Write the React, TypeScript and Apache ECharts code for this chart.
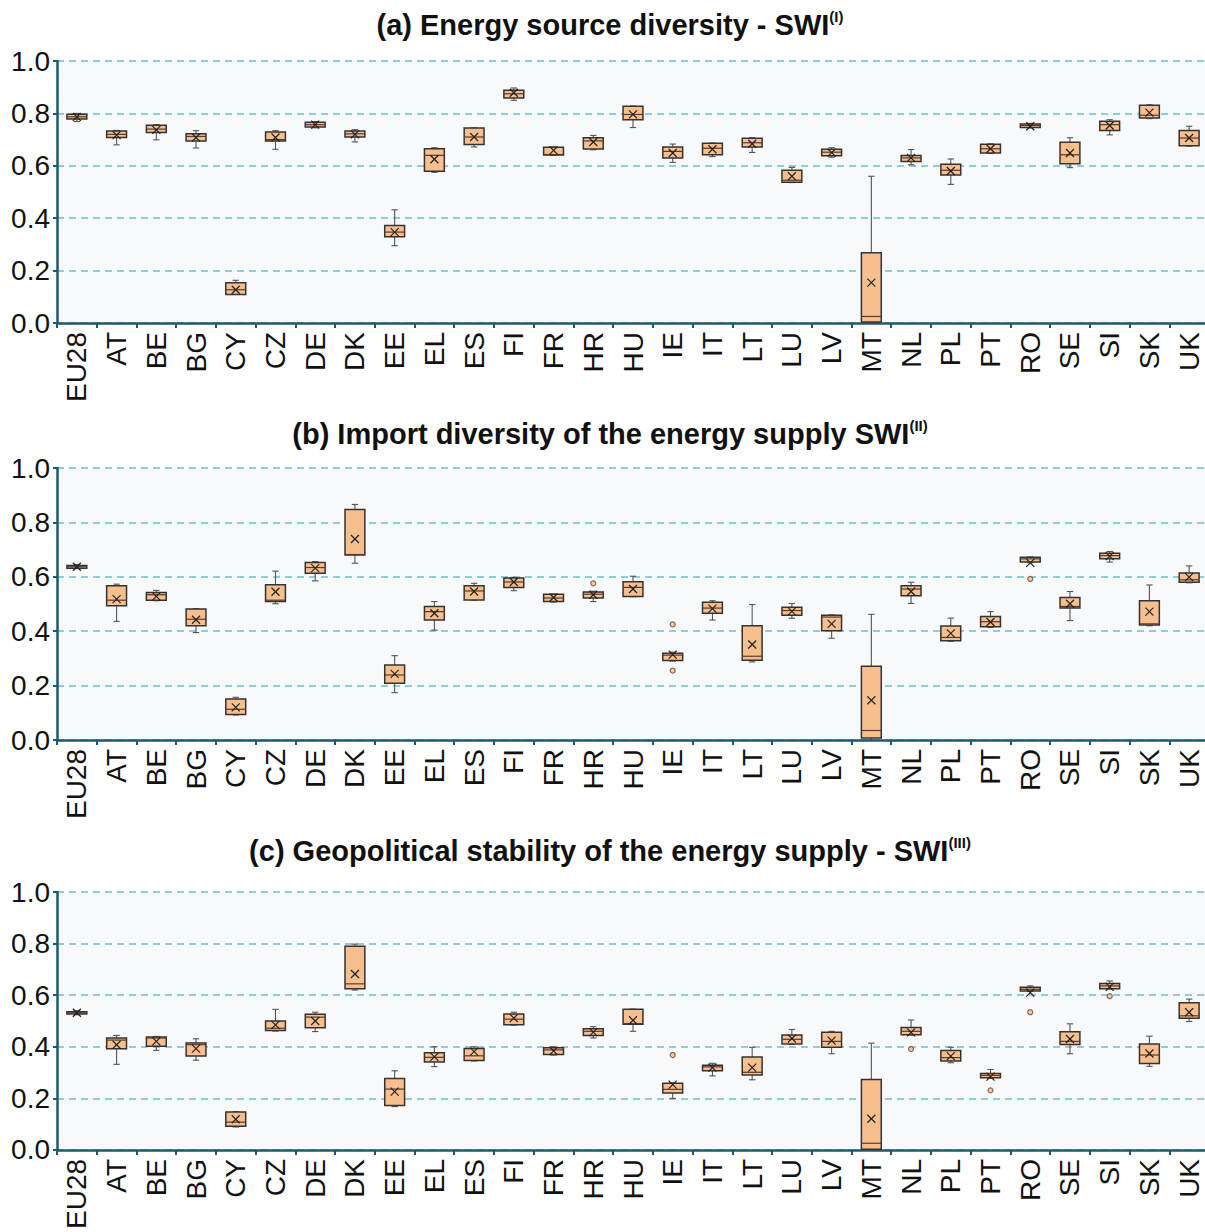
import React, { useEffect, useRef } from "react";
import * as echarts from "echarts";

const categories = ["EU28","AT","BE","BG","CY","CZ","DE","DK","EE","EL","ES","FI","FR","HR","HU","IE","IT","LT","LU","LV","MT","NL","PL","PT","RO","SE","SI","SK","UK"];
const yTicks = [0, 0.2, 0.4, 0.6, 0.8, 1.0];

// [min, Q1, median, Q3, max]
const swi1Box = [
  [0.769,0.779,0.787,0.797,0.800],[0.680,0.708,0.720,0.733,0.735],[0.699,0.727,0.740,0.755,0.757],
  [0.668,0.695,0.712,0.722,0.734],[0.109,0.109,0.127,0.154,0.163],[0.663,0.695,0.700,0.729,0.734],
  [0.745,0.748,0.757,0.766,0.769],[0.691,0.710,0.722,0.733,0.738],[0.295,0.329,0.347,0.372,0.432],
  [0.575,0.579,0.640,0.665,0.669],[0.672,0.681,0.710,0.744,0.745],[0.850,0.859,0.875,0.888,0.897],
  [0.640,0.641,0.643,0.671,0.672],[0.661,0.664,0.695,0.707,0.716],[0.746,0.776,0.796,0.827,0.828],
  [0.613,0.630,0.655,0.672,0.683],[0.635,0.642,0.667,0.686,0.687],[0.651,0.672,0.688,0.705,0.707],
  [0.536,0.537,0.545,0.583,0.594],[0.633,0.638,0.652,0.663,0.669],[0.000,0.004,0.025,0.268,0.560],
  [0.604,0.616,0.630,0.639,0.662],[0.529,0.565,0.583,0.606,0.626],[0.647,0.649,0.665,0.682,0.684],
  [0.745,0.746,0.754,0.760,0.762],[0.593,0.608,0.642,0.690,0.707],[0.718,0.735,0.757,0.770,0.776],
  [0.780,0.782,0.793,0.831,0.833],[0.675,0.677,0.706,0.735,0.751],
];
const swi1Mean = [0.787,0.717,0.737,0.708,0.127,0.708,0.757,0.720,0.347,0.625,0.710,0.879,0.659,0.691,0.796,0.649,0.663,0.684,0.560,0.650,0.154,0.630,0.580,0.665,0.751,0.649,0.754,0.803,0.706];
const swi1Outliers: number[][] = [];

const swi2Box = [
  [0.630,0.631,0.637,0.642,0.645],[0.436,0.494,0.514,0.567,0.573],[0.512,0.514,0.534,0.542,0.550],
  [0.395,0.420,0.444,0.482,0.483],[0.092,0.094,0.113,0.151,0.157],[0.501,0.509,0.514,0.571,0.621],
  [0.585,0.613,0.634,0.653,0.656],[0.650,0.680,0.682,0.847,0.866],[0.174,0.209,0.239,0.276,0.310],
  [0.404,0.441,0.472,0.491,0.509],[0.514,0.515,0.548,0.567,0.576],[0.549,0.561,0.581,0.596,0.598],
  [0.507,0.509,0.522,0.536,0.537],[0.509,0.522,0.536,0.544,0.547],[0.527,0.528,0.561,0.582,0.602],
  [0.290,0.292,0.312,0.319,0.323],[0.441,0.466,0.485,0.506,0.512],[0.287,0.293,0.308,0.420,0.498],
  [0.448,0.459,0.476,0.488,0.502],[0.374,0.402,0.452,0.459,0.460],[0.000,0.007,0.035,0.271,0.462],
  [0.502,0.530,0.555,0.567,0.580],[0.363,0.365,0.377,0.419,0.448],[0.414,0.416,0.435,0.454,0.472],
  [0.652,0.654,0.666,0.672,0.673],[0.439,0.485,0.491,0.524,0.546],[0.654,0.666,0.678,0.687,0.693],
  [0.420,0.423,0.427,0.512,0.570],[0.578,0.580,0.589,0.614,0.640],
];
const swi2Mean = [0.637,0.518,0.528,0.442,0.120,0.545,0.632,0.739,0.243,0.466,0.546,0.581,0.524,0.534,0.555,0.314,0.483,0.351,0.473,0.427,0.146,0.546,0.392,0.434,0.651,0.501,0.676,0.472,0.599];
const swi2Outliers = [[13,0.576],[15,0.425],[15,0.255],[24,0.592]];

const swi3Box = [
  [0.524,0.527,0.532,0.536,0.540],[0.332,0.392,0.426,0.434,0.444],[0.386,0.402,0.434,0.438,0.440],
  [0.348,0.364,0.408,0.415,0.431],[0.089,0.092,0.108,0.147,0.149],[0.461,0.463,0.472,0.500,0.545],
  [0.459,0.474,0.515,0.526,0.534],[0.620,0.625,0.644,0.790,0.798],[0.168,0.172,0.236,0.277,0.307],
  [0.323,0.341,0.359,0.377,0.400],[0.345,0.347,0.365,0.393,0.400],[0.484,0.485,0.507,0.527,0.534],
  [0.368,0.370,0.388,0.396,0.400],[0.434,0.444,0.460,0.470,0.478],[0.460,0.487,0.490,0.545,0.546],
  [0.200,0.221,0.235,0.259,0.260],[0.287,0.307,0.322,0.328,0.336],[0.272,0.291,0.301,0.360,0.398],
  [0.410,0.411,0.429,0.446,0.467],[0.373,0.398,0.421,0.456,0.460],[0.000,0.003,0.026,0.273,0.414],
  [0.446,0.447,0.460,0.475,0.504],[0.338,0.345,0.358,0.386,0.398],[0.278,0.280,0.289,0.296,0.312],
  [0.615,0.616,0.623,0.631,0.636],[0.373,0.409,0.421,0.458,0.489],[0.624,0.625,0.636,0.645,0.655],
  [0.324,0.335,0.368,0.411,0.441],[0.498,0.511,0.520,0.571,0.585],
];
const swi3Mean = [0.532,0.408,0.421,0.393,0.119,0.485,0.500,0.682,0.226,0.361,0.381,0.511,0.384,0.457,0.503,0.253,0.319,0.319,0.432,0.424,0.121,0.456,0.364,0.284,0.610,0.430,0.632,0.374,0.534];
const swi3Outliers = [[15,0.368],[21,0.391],[23,0.231],[24,0.534],[26,0.596]];

const titles = [
  { main: "(a) Energy source diversity - SWI", sup: "(I)" },
  { main: "(b) Import diversity of the energy supply SWI", sup: "(II)" },
  { main: "(c) Geopolitical stability of the energy supply - SWI", sup: "(III)" },
];

const FONT = "'Liberation Sans', Arial, Helvetica, sans-serif";
const AXIS = "#1e5a6b";
const BOX_FILL = "#f8bf8e";
const BOX_STROKE = "#333333";

function renderBox(params: any, api: any) {
  const idx = api.value(0);
  const lo = api.coord([idx, api.value(1)]);
  const q1 = api.coord([idx, api.value(2)]);
  const med = api.coord([idx, api.value(3)]);
  const q3 = api.coord([idx, api.value(4)]);
  const hi = api.coord([idx, api.value(5)]);
  const bw = api.size([1, 0])[0];
  const half = bw * 0.25;
  const cap = bw * 0.08;
  const x = med[0];
  const wStyle = { stroke: "#555", lineWidth: 1.1 };
  return {
    type: "group",
    children: [
      { type: "line", shape: { x1: x, y1: hi[1], x2: x, y2: q3[1] }, style: wStyle },
      { type: "line", shape: { x1: x, y1: q1[1], x2: x, y2: lo[1] }, style: wStyle },
      { type: "line", shape: { x1: x - cap, y1: hi[1], x2: x + cap, y2: hi[1] }, style: wStyle },
      { type: "line", shape: { x1: x - cap, y1: lo[1], x2: x + cap, y2: lo[1] }, style: wStyle },
      { type: "rect", shape: { x: x - half, y: q3[1], width: 2 * half, height: Math.max(q1[1] - q3[1], 1) },
        style: { fill: BOX_FILL, stroke: BOX_STROKE, lineWidth: 1.5 } },
      { type: "line", shape: { x1: x - half, y1: med[1], x2: x + half, y2: med[1] },
        style: { stroke: "#5a3a2a", lineWidth: 1.2 } },
    ],
  };
}

function renderMean(params: any, api: any) {
  const p = api.coord([api.value(0), api.value(1)]);
  const s = 4;
  const st = { stroke: "#222", lineWidth: 1.2 };
  return {
    type: "group",
    children: [
      { type: "line", shape: { x1: p[0] - s, y1: p[1] - s, x2: p[0] + s, y2: p[1] + s }, style: st },
      { type: "line", shape: { x1: p[0] - s, y1: p[1] + s, x2: p[0] + s, y2: p[1] - s }, style: st },
    ],
  };
}

export default function App() {
  const ref = useRef<HTMLDivElement>(null);
  useEffect(() => {
    if (!ref.current) return;
    const chart = echarts.init(ref.current, null, { renderer: "svg" });
    const grids = [
      { left: 57, right: 0, top: 61, height: 262 },
      { left: 57, right: 0, top: 468, height: 272 },
      { left: 57, right: 0, top: 892, height: 261 },
    ];
    const titleY = [25, 434, 851];
    const boxes = [swi1Box, swi2Box, swi3Box];
    const means = [swi1Mean, swi2Mean, swi3Mean];
    const outs = [swi1Outliers, swi2Outliers, swi3Outliers];

    const series: any[] = [];
    boxes.forEach((b, i) => {
      series.push({
        type: "custom", xAxisIndex: i, yAxisIndex: i, renderItem: renderBox,
        encode: { x: 0, y: [1, 2, 3, 4, 5] },
        data: b.map((v, k) => [k, ...v]), z: 3,
      });
      series.push({
        type: "custom", xAxisIndex: i, yAxisIndex: i, renderItem: renderMean,
        encode: { x: 0, y: 1 },
        data: means[i].map((v, k) => [k, v]), z: 4,
      });
      series.push({
        type: "scatter", xAxisIndex: i, yAxisIndex: i, symbol: "circle", symbolSize: 5,
        itemStyle: { color: BOX_FILL, borderColor: "#6b4a35", borderWidth: 1.2 },
        data: outs[i], z: 4,
      });
    });

    chart.setOption({
      animation: false,
      backgroundColor: "#ffffff",
      grid: grids.map((g) => ({ ...g, show: true, backgroundColor: "#f8f9fa", borderWidth: 0, containLabel: false })),
      xAxis: grids.map((g, i) => ({
        type: "category", gridIndex: i, data: categories, boundaryGap: true,
        axisLine: { show: true, lineStyle: { color: AXIS, width: 2.5 } },
        axisTick: { show: true, length: 5, lineStyle: { color: AXIS, width: 2 } },
        axisLabel: { rotate: 90, interval: 0, fontSize: 28, color: "#111", margin: 9, fontFamily: FONT },
        splitLine: { show: false },
      })),
      yAxis: grids.map((g, i) => ({
        type: "value", gridIndex: i, min: yTicks[0], max: yTicks[yTicks.length - 1], interval: 0.2,
        axisLine: { show: true, lineStyle: { color: AXIS, width: 2.5 } },
        axisTick: { show: true, length: 4, lineStyle: { color: AXIS, width: 2 } },
        axisLabel: { fontSize: 28, color: "#111", margin: 7, fontFamily: FONT, formatter: (v: number) => v.toFixed(1) },
        splitLine: { show: true, lineStyle: { color: "#8fcddc", width: 1.8, type: [7, 5] } },
      })),
      series,
      graphic: titles.map((t, i) => ({
        type: "text", x: 610, y: titleY[i], z: 10,
        style: {
          text: `{m|${t.main}}{s|${t.sup}}`,
          align: "center", verticalAlign: "middle",
          rich: {
            m: { fontSize: 29, fontWeight: "bold", fontFamily: FONT, fill: "#111", lineHeight: 32 },
            s: { fontSize: 15, fontWeight: "bold", fontFamily: FONT, fill: "#111", verticalAlign: "top", lineHeight: 32 },
          },
        },
      })),
    });
    return () => chart.dispose();
  }, []);
  return (
    <div style={{ position: "absolute", left: 0, top: 0, width: 1205, height: 1232, overflow: "hidden", background: "#fff" }}>
      <div ref={ref} style={{ position: "absolute", left: 0, top: 0, width: 1209, height: 1232 }} />
    </div>
  );
}
